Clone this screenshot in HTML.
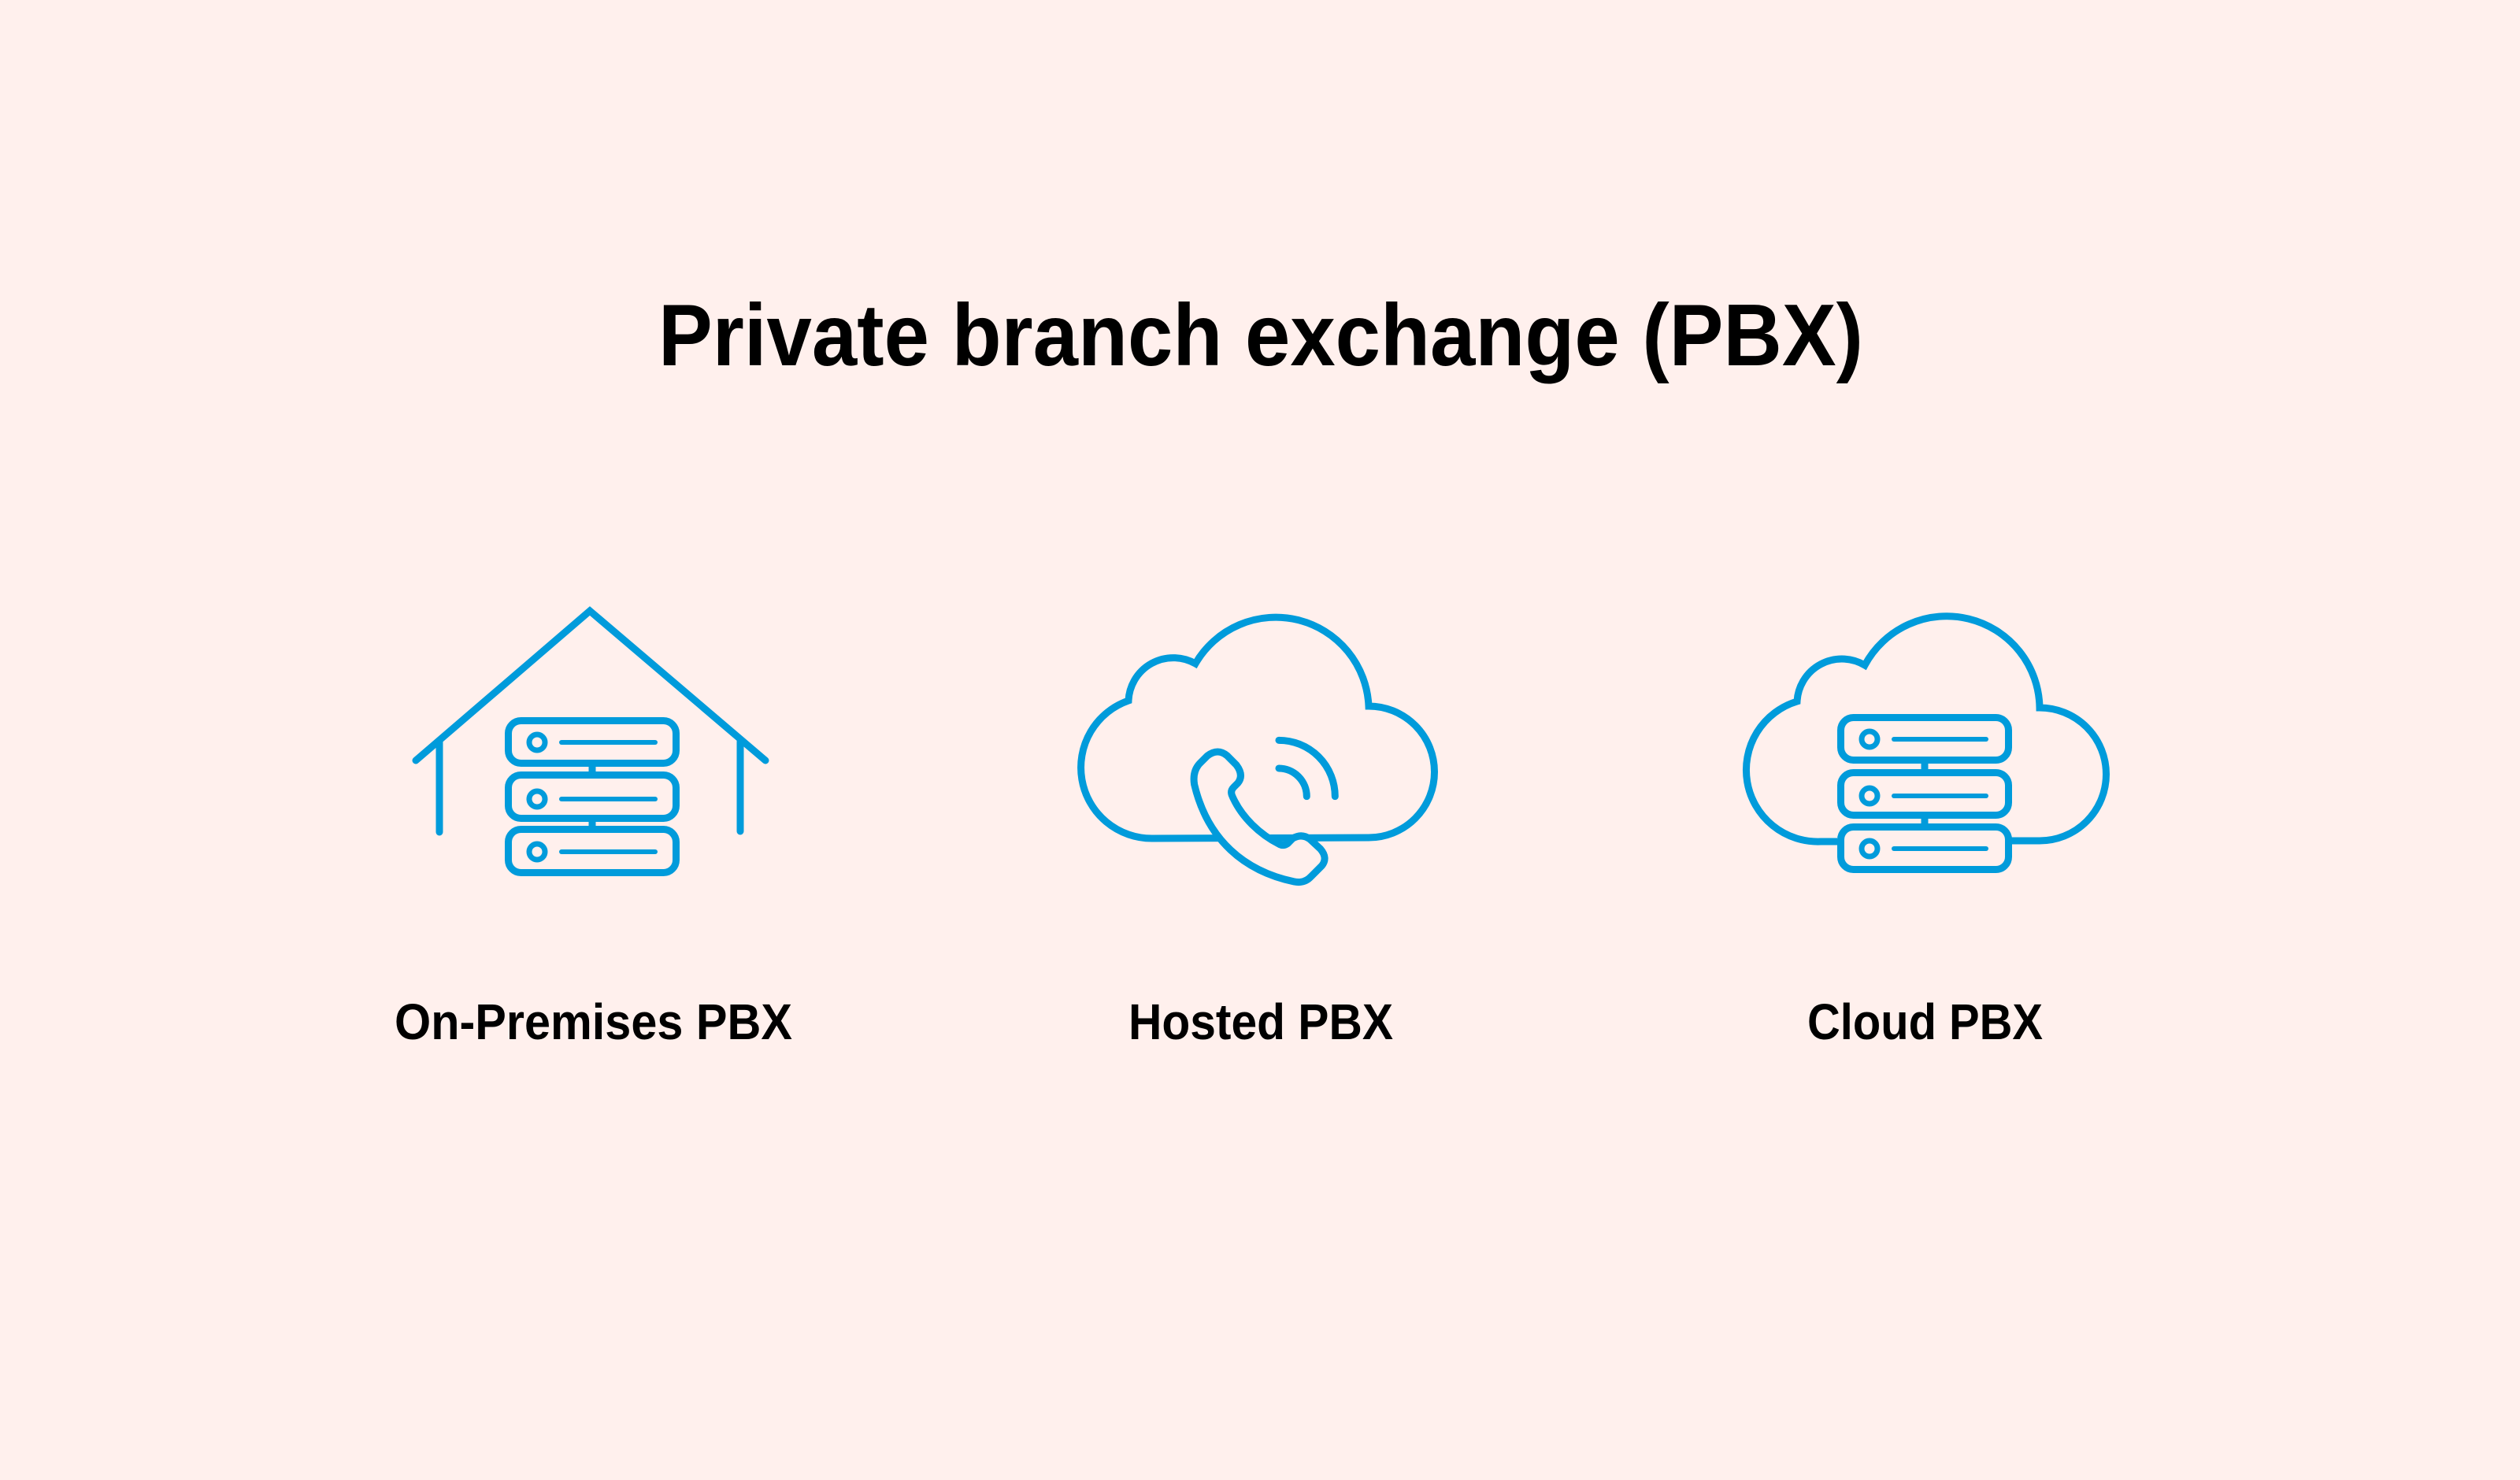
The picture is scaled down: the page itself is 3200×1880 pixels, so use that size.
<!DOCTYPE html>
<html><head><meta charset="utf-8"><style>
html,body{margin:0;padding:0;background:#fff0ed;}
svg{display:block;}
text{font-family:"Liberation Sans",sans-serif;font-weight:bold;fill:#000;}
</style></head><body>
<svg width="3200" height="1880" viewBox="0 0 3200 1880" xmlns="http://www.w3.org/2000/svg">
<rect width="3200" height="1880" fill="#fff0ed"/>
<text x="836" y="464" font-size="111" textLength="1530" lengthAdjust="spacingAndGlyphs">Private branch exchange (PBX)</text>
<text x="501" y="1320" font-size="64" textLength="505" lengthAdjust="spacingAndGlyphs">On-Premises PBX</text>
<text x="1433" y="1320" font-size="64" textLength="336" lengthAdjust="spacingAndGlyphs">Hosted PBX</text>
<text x="2295" y="1320" font-size="64" textLength="299" lengthAdjust="spacingAndGlyphs">Cloud PBX</text>

<g fill="none" stroke="#009bdb" stroke-width="9" stroke-linecap="round">
<!-- House -->
<polyline points="528,966 749,776 972,966" stroke-linejoin="miter"/>
<line x1="558" y1="942" x2="558" y2="1057"/>
<line x1="940" y1="942" x2="940" y2="1056"/>
<rect x="645.5" y="915.5" width="213" height="54" rx="16"/>
<rect x="645.5" y="984.5" width="213" height="55" rx="16"/>
<rect x="645.5" y="1053.5" width="213" height="55" rx="16"/>
<line x1="752" y1="974" x2="752" y2="980" stroke-linecap="butt"/>
<line x1="752" y1="1044" x2="752" y2="1049" stroke-linecap="butt"/>
<circle cx="682" cy="943" r="10" stroke-width="7"/>
<circle cx="682" cy="1015" r="10" stroke-width="7"/>
<circle cx="682" cy="1082" r="10" stroke-width="7"/>
<line x1="713" y1="943" x2="832" y2="943" stroke-width="6"/>
<line x1="713" y1="1015" x2="832" y2="1015" stroke-width="6"/>
<line x1="713" y1="1082" x2="832" y2="1082" stroke-width="6"/>

<!-- Hosted cloud -->
<path d="M1463,1065 A90,90 0 0 1 1433,890 A57,57 0 0 1 1518,843 A118,118 0 0 1 1738,897 A83.5,83.5 0 0 1 1738,1064 L1463,1065" stroke-linecap="butt"/>
<g transform="translate(1340,740) scale(0.3333)" stroke-width="27">
<path fill="#fff0ed" stroke-linejoin="round" d="M530,770 C580,980 720,1100 910,1140 Q950,1148 975,1120 L1015,1080 Q1040,1050 1010,1015 L970,978 Q940,955 905,975 L885,995 Q870,1005 855,998 C780,960 710,895 675,815 Q665,795 680,780 L695,765 Q720,735 690,695 L655,660 Q620,630 580,660 L550,690 Q522,720 530,770 Z"/>
<path d="M852,708 A107,107 0 0 1 958,815"/>
<path d="M852,601 A214,214 0 0 1 1066,815"/>
</g>

<!-- Cloud PBX -->
<path d="M2333,1069 L2312,1069 A91,91 0 0 1 2282,891 A57,57 0 0 1 2368,845 A118,118 0 0 1 2590,899 A84.5,84.5 0 0 1 2590,1068 L2553,1068" stroke-linecap="butt"/>
<rect x="2337.5" y="911.5" width="213" height="54" rx="16"/>
<rect x="2337.5" y="981.5" width="213" height="54" rx="16"/>
<rect x="2337.5" y="1050.5" width="213" height="54" rx="16"/>
<line x1="2444" y1="970" x2="2444" y2="977" stroke-linecap="butt"/>
<line x1="2444" y1="1040" x2="2444" y2="1046" stroke-linecap="butt"/>
<circle cx="2374" cy="939" r="10" stroke-width="7"/>
<circle cx="2374" cy="1011" r="10" stroke-width="7"/>
<circle cx="2374" cy="1078" r="10" stroke-width="7"/>
<line x1="2405" y1="939" x2="2522" y2="939" stroke-width="6"/>
<line x1="2405" y1="1011" x2="2522" y2="1011" stroke-width="6"/>
<line x1="2405" y1="1078" x2="2522" y2="1078" stroke-width="6"/>
</g>
</svg>
</body></html>
